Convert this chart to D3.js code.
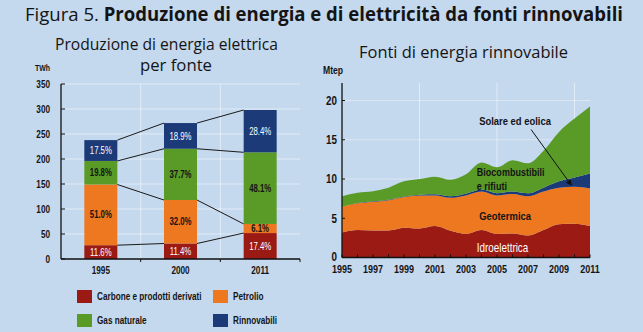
<!DOCTYPE html>
<html><head><meta charset="utf-8">
<script src="https://cdn.jsdelivr.net/npm/d3@7"></script>
<style>body{margin:0;background:#c4d8ee}svg{display:block}</style>
</head><body><svg id="c" width="643" height="332"></svg>
<script>
// ---- Data: left chart (TWh) ----
const barCategories = ["1995", "2000", "2011"];
const barSeriesNames = ["Carbone e prodotti derivati", "Petrolio", "Gas naturale", "Rinnovabili"];
const carbone = [27.6, 31.0, 51.9];
const petrolio = [121.4, 87.0, 18.2];
const gasNaturale = [47.1, 102.5, 143.3];
const rinnovabili = [41.7, 51.4, 84.6];
const pctCarbone = ["11.6%", "11.4%", "17.4%"];
const pctPetrolio = ["51.0%", "32.0%", "6.1%"];
const pctGas = ["19.8%", "37.7%", "48.1%"];
const pctRinnovabili = ["17.5%", "18.9%", "28.4%"];
const barYTicks = [0, 50, 100, 150, 200, 250, 300, 350];

// ---- Data: right chart (Mtep) ----
const years = [1995, 1996, 1997, 1998, 1999, 2000, 2001, 2002, 2003, 2004, 2005, 2006, 2007, 2008, 2009, 2010, 2011];
const idroelettrica = [3.2, 3.5, 3.45, 3.45, 3.8, 3.7, 4.0, 3.4, 3.0, 3.5, 3.0, 3.05, 2.8, 3.5, 4.25, 4.3, 4.0];
const geotermica = [3.25, 3.4, 3.65, 3.85, 3.9, 4.2, 3.9, 4.2, 4.9, 4.9, 4.9, 5.05, 5.0, 4.9, 4.65, 4.7, 4.8];
const solareEolica = [0.02, 0.03, 0.05, 0.06, 0.08, 0.1, 0.15, 0.2, 0.22, 0.25, 0.3, 0.32, 0.38, 0.5, 0.8, 1.2, 1.9];
const biocombustibili = [1.33, 1.32, 1.3, 1.54, 1.92, 2.0, 2.25, 2.1, 2.48, 3.45, 3.3, 3.98, 3.82, 4.7, 6.3, 7.5, 8.55];
const areaYTicks = [0, 5, 10, 15, 20];
const areaXTickLabels = [1995, 1997, 1999, 2001, 2003, 2005, 2007, 2009, 2011];

const colors = { red: "#9c1a14", orange: "#ee7820", green: "#5a9b28", blue: "#1d3a78" };
const SANS = "'Liberation Sans',Arial,sans-serif";
const HUMAN = "'Open Sans','Noto Sans',sans-serif";
const DARK = "#141414";
const SX = 0.82; // horizontal compression to mimic a condensed face

const svg = d3.select("#c");
svg.append("rect").attr("width", 643).attr("height", 332).attr("fill", "#c4d8ee");

// helper: condensed text placed at (x, y)
function ntext(parent, x, y, str, size, opts = {}) {
  const t = parent.append("text")
    .attr("transform", `translate(${x},${y}) scale(${opts.sx || SX},1)`)
    .attr("font-family", SANS).attr("font-size", size)
    .attr("font-weight", opts.weight || "bold")
    .attr("fill", opts.fill || DARK)
    .attr("text-anchor", opts.anchor || "start")
    .text(str);
  if (opts.dy) t.attr("dy", opts.dy);
  return t;
}

// Title
const title = svg.append("text").attr("x", 25).attr("y", 21)
  .attr("font-family", HUMAN).attr("font-size", 19).attr("fill", DARK)
  .attr("textLength", 598).attr("lengthAdjust", "spacingAndGlyphs");
title.append("tspan").text("Figura 5. ");
title.append("tspan").attr("font-weight", "bold").text("Produzione di energia e di elettricità da fonti rinnovabili");

// Subtitles
svg.append("text").attr("x", 55).attr("y", 50).attr("font-family", HUMAN).attr("font-size", 17)
  .attr("fill", DARK).attr("textLength", 223).attr("lengthAdjust", "spacingAndGlyphs")
  .text("Produzione di energia elettrica");
svg.append("text").attr("x", 140).attr("y", 71).attr("font-family", HUMAN).attr("font-size", 17)
  .attr("fill", DARK).attr("textLength", 72).attr("lengthAdjust", "spacingAndGlyphs")
  .text("per fonte");
svg.append("text").attr("x", 359).attr("y", 58).attr("font-family", HUMAN).attr("font-size", 17)
  .attr("fill", DARK).attr("textLength", 209).attr("lengthAdjust", "spacingAndGlyphs")
  .text("Fonti di energia rinnovabile");

// ================= LEFT CHART =================
const xL = d3.scalePoint().domain(barCategories).range([61, 300]).padding(0.5);
const yL = d3.scaleLinear().domain([0, 350]).range([259, 84]);
const barW = 33;
const seriesArr = [carbone, petrolio, gasNaturale, rinnovabili];
const pctArr = [pctCarbone, pctPetrolio, pctGas, pctRinnovabili];
const segColors = [colors.red, colors.orange, colors.green, colors.blue];
const labelColors = ["#ffffff", DARK, DARK, "#ffffff"];
const labelWeights = ["normal", "bold", "bold", "normal"];

const rows = barCategories.map((c, i) => {
  const o = { cat: c };
  barSeriesNames.forEach((n, k) => o[n] = seriesArr[k][i]);
  return o;
});
const stackL = d3.stack().keys(barSeriesNames)(rows);

// gridlines
const gL = svg.append("g");
gL.selectAll("line").data(barYTicks.filter(d => d > 0)).join("line")
  .attr("x1", 61).attr("x2", 300).attr("y1", d => yL(d)).attr("y2", d => yL(d))
  .attr("stroke", "#ffffff").attr("stroke-opacity", 0.5).attr("stroke-width", 1);
const mids = [(xL("1995") + xL("2000")) / 2, (xL("2000") + xL("2011")) / 2];
svg.append("g").selectAll("line").data(mids).join("line")
  .attr("x1", d => d).attr("x2", d => d).attr("y1", 84).attr("y2", 259)
  .attr("stroke", "#ffffff").attr("stroke-opacity", 0.5);

// bars
stackL.forEach((layer, k) => {
  svg.append("g").selectAll("rect").data(layer).join("rect")
    .attr("x", d => xL(d.data.cat) - barW / 2).attr("width", barW)
    .attr("y", d => yL(d[1])).attr("height", d => yL(d[0]) - yL(d[1]))
    .attr("fill", segColors[k]);
});

// connector lines
stackL.forEach((layer) => {
  for (let i = 0; i < layer.length - 1; i++) {
    const a = layer[i], b = layer[i + 1];
    svg.append("line")
      .attr("x1", xL(a.data.cat) + barW / 2).attr("y1", yL(a[1]))
      .attr("x2", xL(b.data.cat) - barW / 2).attr("y2", yL(b[1]))
      .attr("stroke", "#1a1a1a").attr("stroke-width", 1);
  }
});

// percentage labels
stackL.forEach((layer, k) => {
  const g = svg.append("g");
  layer.forEach((d, i) => {
    ntext(g, xL(d.data.cat), (yL(d[0]) + yL(d[1])) / 2, pctArr[k][i], 10,
      { sx: 0.78, anchor: "middle", dy: "0.36em", weight: labelWeights[k], fill: labelColors[k] });
  });
});

// axes
const axL = svg.append("g");
axL.append("line").attr("x1", 61).attr("x2", 61).attr("y1", yL(350)).attr("y2", yL(0)).attr("stroke", "#111").attr("stroke-width", 1.3);
axL.append("line").attr("x1", 61).attr("x2", 300).attr("y1", yL(0)).attr("y2", yL(0)).attr("stroke", "#111").attr("stroke-width", 1.3);
axL.selectAll("line.t").data(barYTicks).join("line").attr("class", "t")
  .attr("x1", 61).attr("x2", 65).attr("y1", d => yL(d)).attr("y2", d => yL(d)).attr("stroke", "#111");
barYTicks.forEach(d => ntext(axL, 50, yL(d), String(d), 10, { anchor: "end", dy: "0.36em" }));
axL.selectAll("line.xt").data(mids.concat([300])).join("line").attr("class", "xt")
  .attr("x1", d => d).attr("x2", d => d).attr("y1", yL(0)).attr("y2", yL(0) + 3).attr("stroke", "#111");
barCategories.forEach(c => ntext(axL, xL(c), 274, c, 10, { anchor: "middle" }));
ntext(svg, 35, 71, "TWh", 8.5);

// legend
const legendItems = [
  { name: barSeriesNames[0], color: colors.red, x: 77, y: 290 },
  { name: barSeriesNames[1], color: colors.orange, x: 213, y: 290 },
  { name: barSeriesNames[2], color: colors.green, x: 77, y: 314 },
  { name: barSeriesNames[3], color: colors.blue, x: 213, y: 314 }
];
legendItems.forEach(d => {
  const g = svg.append("g").attr("transform", `translate(${d.x},${d.y})`);
  g.append("rect").attr("width", 15).attr("height", 13).attr("fill", d.color);
  ntext(g, 20, 6.5, d.name, 10, { dy: "0.36em" });
});

// ================= RIGHT CHART =================
const xR = d3.scaleLinear().domain([1995, 2011]).range([342, 590]);
const yR = d3.scaleLinear().domain([0, 20]).range([257.5, 100.5]);
const areaKeys = ["idro", "geo", "sol", "bio"];
const areaColors = [colors.red, colors.orange, colors.blue, colors.green];
const areaRows = years.map((y, i) => ({ year: y, idro: idroelettrica[i], geo: geotermica[i], sol: solareEolica[i], bio: biocombustibili[i] }));
const stackR = d3.stack().keys(areaKeys)(areaRows);

svg.append("g").selectAll("line").data([2000, 2005, 2010]).join("line")
  .attr("x1", d => xR(d)).attr("x2", d => xR(d)).attr("y1", 83).attr("y2", yR(0))
  .attr("stroke", "#ffffff").attr("stroke-opacity", 0.5);
svg.append("g").selectAll("line").data([5, 10, 15, 20]).join("line")
  .attr("x1", xR(1995)).attr("x2", xR(2011)).attr("y1", d => yR(d)).attr("y2", d => yR(d))
  .attr("stroke", "#ffffff").attr("stroke-opacity", 0.4);

const area = d3.area().x(d => xR(d.data.year)).y0(d => yR(d[0])).y1(d => yR(d[1])).curve(d3.curveMonotoneX);
svg.append("g").selectAll("path").data(stackR).join("path")
  .attr("d", area).attr("fill", (d, i) => areaColors[i]);

const axR = svg.append("g");
axR.append("line").attr("x1", xR(1995)).attr("x2", xR(1995)).attr("y1", 83).attr("y2", yR(0)).attr("stroke", "#111").attr("stroke-width", 1.3);
axR.append("line").attr("x1", xR(1995)).attr("x2", xR(2011)).attr("y1", yR(0)).attr("y2", yR(0)).attr("stroke", "#111").attr("stroke-width", 1.3);
axR.selectAll("line.yt").data(areaYTicks).join("line").attr("class", "yt")
  .attr("x1", xR(1995)).attr("x2", xR(1995) + 3).attr("y1", d => yR(d)).attr("y2", d => yR(d)).attr("stroke", "#111");
areaYTicks.forEach(d => ntext(axR, 337, yR(d) - (d === 0 ? 1 : 0), String(d), 12, { anchor: "end", dy: "0.36em" }));
axR.selectAll("line.xt").data(years).join("line").attr("class", "xt")
  .attr("x1", d => xR(d)).attr("x2", d => xR(d)).attr("y1", yR(0)).attr("y2", yR(0) - 3).attr("stroke", "#111");
areaXTickLabels.forEach(d => ntext(axR, xR(d), 273, String(d), 11, { anchor: "middle" }));
ntext(svg, 323, 74, "Mtep", 10.5);

// area annotations
const ann = svg.append("g");
ntext(ann, xR(2003.85), yR(17.4), "Solare ed eolica", 11.5, { dy: "0.36em" });
ntext(ann, xR(2003.7), yR(10.9), "Biocombustibili", 11, { dy: "0.36em" });
ntext(ann, xR(2003.7), yR(9.1), "e rifiuti", 11, { dy: "0.36em" });
ntext(ann, xR(2003.85), yR(5.3), "Geotermica", 11.5, { dy: "0.36em" });
ntext(ann, xR(2003.7), yR(1.25), "Idroelettrica", 12, { dy: "0.36em", weight: "normal", fill: "#ffffff" });

svg.append("defs").append("marker").attr("id", "arr").attr("viewBox", "0 0 10 10")
  .attr("refX", 9).attr("refY", 5).attr("markerWidth", 6).attr("markerHeight", 6).attr("orient", "auto")
  .append("path").attr("d", "M0,0 L10,5 L0,10 z").attr("fill", "#111");
svg.append("line").attr("x1", xR(2007.2)).attr("y1", yR(16.3)).attr("x2", xR(2009.8)).attr("y2", yR(9.2))
  .attr("stroke", "#111").attr("stroke-width", 1).attr("marker-end", "url(#arr)");
</script></body></html>
